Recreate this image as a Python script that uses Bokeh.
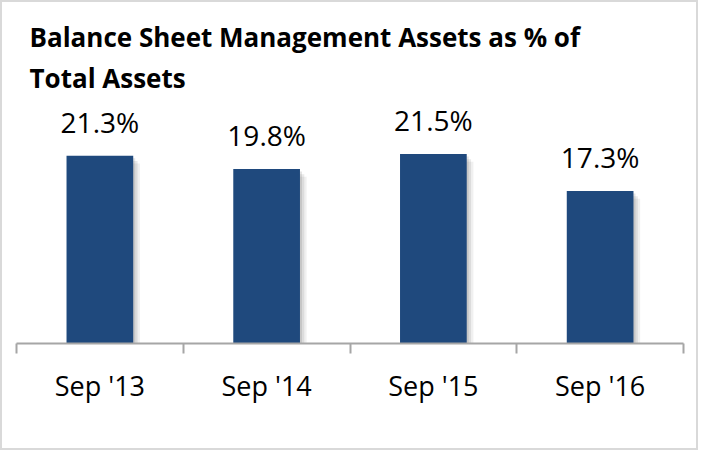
from bokeh.plotting import figure
from bokeh.models import ColumnDataSource, FixedTicker, Range1d, Title
from bokeh.transform import dodge
from bokeh.core.properties import value
from bokeh.embed import file_html
from bokeh.resources import INLINE

categories = ["Sep '13", "Sep '14", "Sep '15", "Sep '16"]
values = [21.3, 19.8, 21.5, 17.3]
labels = ["21.3%", "19.8%", "21.5%", "17.3%"]

xs = list(range(len(categories)))
src = ColumnDataSource(data=dict(x=xs, val=values, lab=labels))

p = figure(width=698, height=450, output_backend="svg", toolbar_location=None,
           x_range=Range1d(-0.5, len(categories) - 0.5), y_range=Range1d(0, 27.1),
           min_border_left=14, min_border_right=17, min_border_bottom=109, min_border_top=102)
p.styles = {"border": "2px solid #D9D9D9", "box-sizing": "border-box"}

t = Title(text="Balance Sheet Management Assets as % of\nTotal Assets", text_font="Open Sans",
          text_font_style="bold", text_font_size="26px", text_color="#000000", align="left",
          offset=13, standoff=17, text_line_height=1.15)
p.add_layout(t, "above")

p.xgrid.visible = False
p.ygrid.visible = False
p.yaxis.visible = False
p.outline_line_color = None
p.background_fill_color = "white"
p.border_fill_color = "white"

# shadows
for off, yoff, a in [(0.012, -0.3, 0.14), (0.026, -0.6, 0.11), (0.040, -0.9, 0.08)]:
    p.vbar(x=dodge("x", off, range=p.x_range), top=dodge("val", yoff, range=p.y_range), bottom=0,
           width=0.4, source=src, fill_color="#404040", fill_alpha=a, line_color=None)

p.vbar(x="x", top="val", bottom=0, width=0.4, source=src, fill_color="#1F497D", line_color=None)

p.text(x="x", y="val", text="lab", source=src, text_align="center", text_baseline="alphabetic",
       y_offset=-34, text_font=value("Open Sans"), text_font_size="28px", text_color="#000000")

ax = p.xaxis[0]
ax.ticker = FixedTicker(ticks=xs, minor_ticks=[i - 0.5 for i in range(len(categories) + 1)])
ax.major_label_overrides = {i: c for i, c in enumerate(categories)}
ax.major_tick_line_color = None
ax.major_tick_out = 0
ax.major_tick_in = 0
ax.minor_tick_out = 10
ax.minor_tick_in = 0
ax.minor_tick_line_color = "#A6A6A6"
ax.minor_tick_line_width = 2
ax.axis_line_color = "#A6A6A6"
ax.axis_line_width = 2
ax.major_label_standoff = 13
ax.major_label_text_font = "Open Sans"
ax.major_label_text_font_size = "27px"
ax.major_label_text_color = "#000000"

open("out.html", "w").write(file_html(p, INLINE))
